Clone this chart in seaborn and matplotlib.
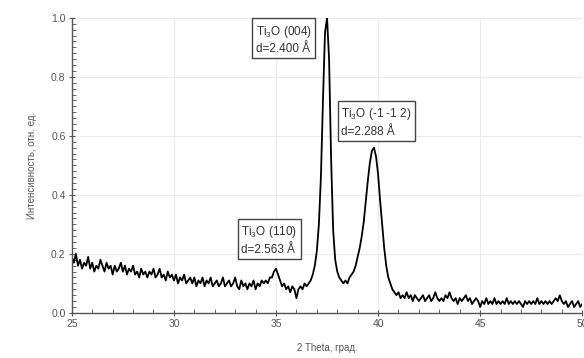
import matplotlib
matplotlib.use("Agg")
import matplotlib.pyplot as plt
import matplotlib.ticker as mticker
import numpy as np
import pandas as pd
import seaborn as sns

# XRD scan 25..50 deg, step 0.1 deg (intensity)
intensity = [
    0.19, 0.17, 0.20, 0.16, 0.18, 0.15, 0.17, 0.16, 0.19, 0.15,  # 25.0
    0.17, 0.14, 0.16, 0.15, 0.18, 0.16, 0.14, 0.17, 0.15, 0.16,  # 26.0
    0.13, 0.16, 0.14, 0.15, 0.17, 0.14, 0.16, 0.13, 0.15, 0.14,  # 27.0
    0.16, 0.13, 0.14, 0.12, 0.15, 0.13, 0.14, 0.12, 0.14, 0.13,  # 28.0
    0.15, 0.12, 0.13, 0.15, 0.12, 0.13, 0.11, 0.14, 0.12, 0.13,  # 29.0
    0.11, 0.13, 0.10, 0.12, 0.11, 0.13, 0.10, 0.11, 0.12, 0.10,  # 30.0
    0.12, 0.09, 0.11, 0.10, 0.12, 0.09, 0.11, 0.10, 0.12, 0.09,  # 31.0
    0.10, 0.11, 0.09, 0.10, 0.12, 0.09, 0.10, 0.11, 0.09, 0.10,  # 32.0
    0.12, 0.09, 0.08, 0.11, 0.09, 0.10, 0.08, 0.10, 0.09, 0.11,  # 33.0
    0.08, 0.10, 0.09, 0.11, 0.10, 0.11, 0.10, 0.12, 0.12, 0.14,  # 34.0
    0.15, 0.13, 0.11, 0.09, 0.10, 0.08, 0.09, 0.07, 0.09, 0.08,  # 35.0
    0.05, 0.08, 0.09, 0.08, 0.10, 0.09, 0.10, 0.11, 0.13, 0.16,  # 36.0
    0.21, 0.30, 0.46, 0.72, 0.95, 1.00, 0.86, 0.52, 0.28, 0.18,  # 37.0
    0.14, 0.12, 0.11, 0.10, 0.11, 0.10, 0.12, 0.13, 0.14, 0.16,  # 38.0
    0.19, 0.22, 0.26, 0.31, 0.38, 0.45, 0.51, 0.55, 0.56, 0.53,  # 39.0
    0.47, 0.38, 0.30, 0.22, 0.16, 0.12, 0.10, 0.08, 0.07, 0.06,  # 40.0
    0.07, 0.05, 0.06, 0.05, 0.07, 0.05, 0.06, 0.04, 0.06, 0.05,  # 41.0
    0.04, 0.05, 0.06, 0.04, 0.05, 0.06, 0.04, 0.05, 0.07, 0.05,  # 42.0
    0.04, 0.05, 0.04, 0.06, 0.05, 0.07, 0.05, 0.04, 0.05, 0.03,  # 43.0
    0.05, 0.04, 0.05, 0.06, 0.04, 0.05, 0.03, 0.04, 0.05, 0.04,  # 44.0
    0.02, 0.04, 0.03, 0.05, 0.03, 0.04, 0.03, 0.05, 0.03, 0.04,  # 45.0
    0.03, 0.04, 0.03, 0.05, 0.03, 0.04, 0.03, 0.04, 0.03, 0.04,  # 46.0
    0.03, 0.02, 0.04, 0.03, 0.04, 0.03, 0.04, 0.03, 0.05, 0.03,  # 47.0
    0.04, 0.03, 0.04, 0.03, 0.04, 0.03, 0.04, 0.05, 0.04, 0.06,  # 48.0
    0.04, 0.03, 0.04, 0.02, 0.03, 0.04, 0.02, 0.03, 0.04, 0.02,  # 49.0
    0.03,                                                        # 50.0
]
theta = np.linspace(25, 50, len(intensity))

# peak labels: text, box left x, box top y
peak_labels = ["Ti$_3$O (004)\nd=2.400 Å", "Ti$_3$O (-1 -1 2)\nd=2.288 Å", "Ti$_3$O (110)\nd=2.563 Å"]
label_x = [34.0, 38.2, 33.3]
label_y = [0.98, 0.70, 0.30]

df = pd.DataFrame({"theta": theta, "I": intensity})

sns.set_style("whitegrid", {"grid.color": "#ececec", "axes.edgecolor": "#555555"})
plt.rcParams["font.family"] = ["Liberation Sans", "DejaVu Sans"]
plt.rcParams["mathtext.fontset"] = "custom"
plt.rcParams["mathtext.rm"] = "Liberation Sans"

fig, ax = plt.subplots(figsize=(5.84, 3.58), dpi=100)
fig.subplots_adjust(left=0.123, right=0.997, top=0.95, bottom=0.126)

sns.lineplot(data=df, x="theta", y="I", ax=ax, color="black", linewidth=1.3)

ax.set_xlim(25, 50)
ax.set_ylim(0, 1.0)
ax.xaxis.set_major_locator(mticker.MultipleLocator(5))
ax.xaxis.set_minor_locator(mticker.MultipleLocator(1))
ax.yaxis.set_major_locator(mticker.MultipleLocator(0.2))
ax.yaxis.set_minor_locator(mticker.MultipleLocator(0.02))
ax.yaxis.set_major_formatter(mticker.FormatStrFormatter("%.1f"))
ax.tick_params(which="major", direction="inout", length=5, width=0.8, color="#555555",
               labelsize=7.5, labelcolor="#555555", pad=2, bottom=True, left=True)
ax.tick_params(which="minor", direction="in", length=3, width=0.7, color="#666666",
               bottom=True, left=True)
for s in ["top", "right"]:
    ax.spines[s].set_visible(False)
for s in ["left", "bottom"]:
    ax.spines[s].set_linewidth(1.0)

ax.set_xlabel("2 Theta, град.", fontsize=7, color="#555555", labelpad=10)
ax.set_ylabel("Интенсивность, отн. ед.", fontsize=7, color="#555555", labelpad=10)

for txt, lx, ly in zip(peak_labels, label_x, label_y):
    ax.text(lx, ly, txt, ha="left", va="top", fontsize=8.5, color="#333333",
            linespacing=1.35,
            bbox=dict(boxstyle="square,pad=0.3", fc="white", ec="#444444", lw=1.0))

plt.savefig("out.png", dpi=100)
